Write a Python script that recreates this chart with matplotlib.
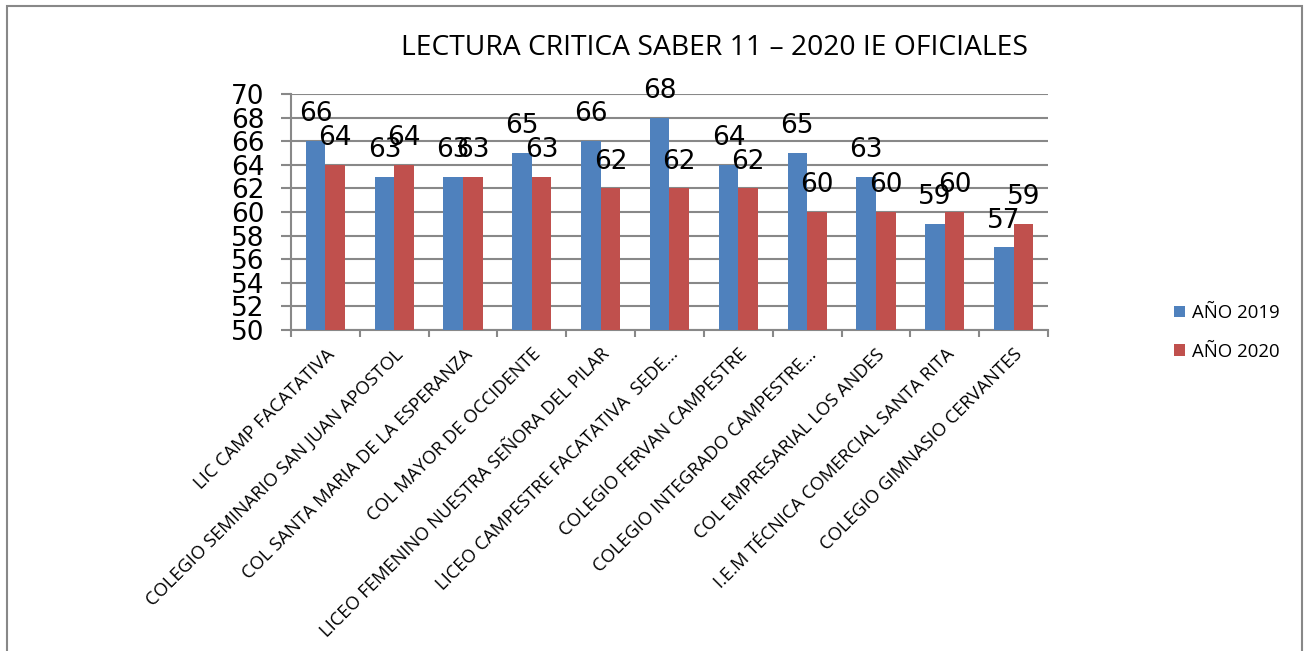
import matplotlib.pyplot as plt
import numpy as np
from matplotlib.patches import Rectangle

# data
schools = [
    "LIC CAMP FACATATIVA",
    "COLEGIO SEMINARIO SAN JUAN APOSTOL",
    "COL SANTA MARIA DE LA ESPERANZA",
    "COL MAYOR DE OCCIDENTE",
    "LICEO FEMENINO NUESTRA SEÑORA DEL PILAR",
    "LICEO CAMPESTRE FACATATIVA  SEDE…",
    "COLEGIO FERVAN CAMPESTRE",
    "COLEGIO INTEGRADO CAMPESTRE…",
    "COL EMPRESARIAL LOS ANDES",
    "I.E.M TÉCNICA COMERCIAL SANTA RITA",
    "COLEGIO GIMNASIO CERVANTES",
]
y2019 = [66, 63, 63, 65, 66, 68, 64, 65, 63, 59, 57]
y2020 = [64, 64, 63, 63, 62, 62, 62, 60, 60, 60, 59]
series_names = ["AÑO 2019", "AÑO 2020"]
yticks = list(range(50, 71, 2))

BLUE = "#4F81BD"
RED = "#C0504D"
GRID = "#888888"

fig = plt.figure(figsize=(13.09, 6.51), dpi=100)
ax = fig.add_axes([0.2223, 0.4931, 0.5783, 0.3625])

x = np.arange(len(schools))
w = 0.285
b1 = ax.bar(x - w / 2, y2019, w, color=BLUE, label=series_names[0], zorder=3)
b2 = ax.bar(x + w / 2, y2020, w, color=RED, label=series_names[1], zorder=3)

# value labels above bars
for bars in (b1, b2):
    for r in bars:
        ax.annotate(str(int(r.get_height())), (r.get_x() + r.get_width() / 2, r.get_height()),
                    xytext=(0, 10), textcoords="offset points", ha="center", va="bottom",
                    fontsize=19, family="DejaVu Sans", zorder=5)

ax.set_ylim(50, 70)
ax.set_xlim(-0.5, len(schools) - 0.5)
ax.set_yticks(yticks)
ax.yaxis.grid(True, color=GRID, lw=1.5, zorder=0)
ax.tick_params(axis="y", length=7, width=1.5, color=GRID, pad=12, labelsize=19)

ax.set_xticks(x)
ax.set_xticklabels(schools, rotation=45, ha="right", rotation_mode="anchor",
                   family="Open Sans", fontsize=13.2)
ax.tick_params(axis="x", which="major", length=0, pad=11)
ax.set_xticks(np.arange(-0.5, len(schools), 1), minor=True)
ax.tick_params(axis="x", which="minor", length=5, width=1.5, color=GRID)

for s in ("top", "right"):
    ax.spines[s].set_visible(False)
for s in ("left", "bottom"):
    ax.spines[s].set_color(GRID)
    ax.spines[s].set_linewidth(1.5)

fig.text(0.546, 0.927, "LECTURA CRITICA SABER 11 – 2020 IE OFICIALES",
         ha="center", va="center", family="Open Sans", fontsize=20.3)

ax.legend(loc="center left", bbox_to_anchor=(1.144, -0.01), frameon=False,
          prop={"family": "Open Sans", "size": 13.4}, handlelength=0.6, handleheight=0.6,
          handletextpad=0.4, labelspacing=1.1)

# outer frame
fig.patches.append(Rectangle((7 / 1309, -0.05), 1295 / 1309, 1.05 - 6 / 651,
                             transform=fig.transFigure, fill=False, ec=GRID, lw=1.5))

fig.savefig("out.png", dpi=100)
